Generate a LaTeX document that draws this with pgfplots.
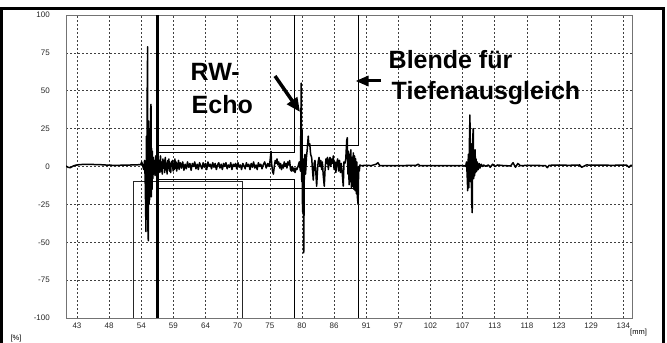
\documentclass[border=0pt]{standalone}
\usepackage{pgfplots}
\pgfplotsset{compat=1.18}
\usepackage{fontspec}
\setmainfont{Liberation Sans}
\usetikzlibrary{arrows.meta}
\pgfplotstableread{
x y
41.17 0.3
41.5 -0.5
41.9 -0.8
42.3 0.2
42.8 0.9
43.5 1.3
45.0 1.4
46.0 1.3
47.5 1.1
48.0 0.9
49.0 0.8
50.0 0.8
51.0 0.9
52.0 1.0
53.0 1.1
53.6 1.3
53.77 3
53.95 0.5
54.1 -2
54.25 4
54.35 -8
54.42 -25
54.48 -43
54.55 20
54.62 -30
54.68 45
54.76 79
54.8 -40
54.87 -49
54.93 30
54.99 -25
55.05 25
55.1 -22
55.16 20
55.22 -20
55.27 38
55.32 41
55.38 -20
55.44 12
55.5 -15
55.56 10
55.62 -8
55.7 6
55.78 -5
55.86 4
56.0 -6
56.1 7
56.2 -3
56.3 5
56.4 -5
56.5 6
56.6 -2
56.7 4
56.8 -4
56.9 7
57.0 -3
57.1 3
57.2 -5
57.3 5
57.4 -1
57.5 4
57.6 -4
57.7 6
57.8 -2
57.9 2
58.0 -5
58.1 4
58.2 -1
58.3 5
58.4 -3
58.5 2
58.6 -4
58.7 3
58.8 0
58.9 4
59.0 -3
59.1 2
59.2 -2
59.3 5
59.4 -1
59.5 3
59.6 -3
59.7 2
59.8 -1
59.9 4
60.0 -2
60.2 2.5
60.4 -1
60.6 3
60.8 -2.5
61.0 1.5
61.2 -1.5
61.4 3
61.6 -0.5
61.8 2
62.0 -2.5
62.2 2
62.4 0
62.6 3
62.8 -1.5
63.0 1.5
63.2 -2
63.4 2.5
63.6 0.5
63.8 -1.5
64.0 2.5
64.2 -0.5
64.4 2
64.6 -2
64.8 3
65.0 0
65.2 1.5
65.4 -1.5
65.6 2.5
65.8 -0.5
66.0 2
66.2 -2
66.4 1
66.6 2.5
66.8 -1
67.0 1.5
67.2 -2
67.4 2
67.6 0
67.8 2.5
68.0 -1.5
68.2 1
68.4 -0.5
68.6 2.5
68.8 -2
69.0 1.5
69.2 0
69.4 2
69.6 -1.5
69.8 2.5
70.0 -0.5
70.2 1
70.4 -2
70.6 2
70.8 0.5
71.0 -1.5
71.2 2.5
71.4 0
71.6 1.5
71.8 -2
72.0 2
72.2 -0.5
72.4 3
72.6 -1
72.8 1
73.0 -2
73.2 2.5
73.4 0
73.6 1.5
73.8 -1.5
74.0 1
74.25 3
74.5 -1
74.75 2
75.0 0
75.15 4
75.3 10
75.4 2
75.55 -3
75.7 -5
75.85 0
76.0 4
76.15 2
76.3 5
76.45 1
76.6 3
76.75 -1
76.9 2
77.05 -2
77.2 1
77.35 -1
77.5 3
77.65 0
77.8 2
77.95 -1
78.1 3
78.25 1
78.4 4
78.55 -2
78.7 -3
78.85 0
79.0 -3
79.15 -1
79.3 -4
79.45 -1
79.6 -2
79.8 0
80.0 3
80.2 -3
80.33 55
80.42 -10
80.48 24
80.55 -30
80.65 5
80.75 -57
80.85 0
80.95 8
81.05 -5
81.2 6
81.35 12
81.5 20
81.6 14
81.75 15
81.9 8
82.07 6
82.2 -2
82.34 -9
82.48 2
82.62 4
82.75 -3
82.9 -13
83.05 -2
83.15 3
83.3 6
83.45 0
83.6 4
83.73 -2
83.85 3
84.0 -6
84.17 -13
84.3 -2
84.45 5
84.57 2
84.7 6
84.85 -2
85.0 4
85.12 6
85.25 0
85.4 5
85.55 2
85.67 7
85.8 -2
85.95 3
86.1 -4
86.23 2
86.4 5
86.55 -3
86.7 4
86.85 -4
87.0 2
87.15 -4
87.33 -13
87.45 3
87.6 2
87.75 5
87.9 17
88.0 19
88.1 -5
88.2 10
88.3 -12
88.4 8
88.5 -10
88.6 11
88.7 -14
88.8 6
88.9 -13
89.0 9
89.1 -15
89.2 7
89.3 -16
89.4 5
89.5 -18
89.6 3
89.7 -21
89.8 -25
89.9 0
90.0 -3
90.1 1
90.3 0.5
91.0 0.8
92.0 0.6
92.8 1.5
93.1 2.5
93.4 0.6
95.0 0.5
97.0 0.6
99.5 0.8
99.8 1.5
100.1 0.5
102.0 0.5
104.0 0.6
106.0 0.5
107.5 0.5
107.7 0
107.85 3
107.95 -5
108.05 -16
108.15 8
108.25 -14
108.35 20
108.42 34
108.5 -10
108.6 15
108.7 -22
108.8 -30.5
108.88 18
108.97 25
109.05 -8
109.12 10
109.2 -6
109.28 11
109.36 -4
109.45 5
109.55 -3
109.65 3
109.8 -2
109.95 2
110.1 -1
110.3 1.5
110.5 0
110.7 1
111.0 0.2
111.5 1
111.8 -0.5
112.2 1.5
112.6 0
113.0 1
114.0 0.6
115.2 0.4
115.6 2.5
116.0 -0.5
116.4 2
116.8 0.5
118.0 0.8
119.5 0.7
121.0 0.6
121.3 -0.8
121.6 0.8
123.0 0.9
125.0 0.8
126.7 1.0
127.0 -0.5
127.4 0.2
127.8 1.0
130.0 0.9
132.0 0.8
134.5 0.9
134.9 -0.5
135.2 0.8
135.4 0.8
}\signal
\begin{document}
\begin{tikzpicture}
\useasboundingbox (0,0) rectangle (667bp,343bp);
\begin{axis}[
  at={(66bp,25bp)}, anchor=south west,
  width=566bp, height=303bp, scale only axis,
  xmin=41.17, xmax=135.4, ymin=-100, ymax=100,
  xtick={43,48.35,53.7,59.05,64.4,69.75,75.1,80.45,85.8,91.15,96.5,101.85,107.2,112.55,117.9,123.25,128.6,133.95},
  xticklabels={43,48,54,59,64,70,75,80,86,91,97,102,107,113,118,123,129,134},
  ytick={-100,-75,-50,-25,0,25,50,75,100},
  yticklabels={-100,-75,-50,-25,0,25,50,75,100},
  major tick length=0pt,
  grid=major,
  major grid style={black!75, line width=0.6bp, dash pattern=on 2bp off 2bp},
  axis line style={black!55, line width=0.8bp},
  tick label style={font=\fontsize{8bp}{9.5bp}\selectfont, inner sep=0pt, text=black!85},
  xticklabel style={anchor=north, yshift=-4.5bp},
  yticklabel style={anchor=east, xshift=-16bp},
]
\addplot[black!85, line width=0.8bp] coordinates {(52.32,-100) (52.32,-9.6) (70.47,-9.6) (70.47,-100)};
\addplot[black, line width=0.9bp] coordinates {(56.6,100) (56.6,9) (79.12,9) (79.12,100)};
\addplot[black, line width=0.9bp] coordinates {(56.6,-100) (56.6,-8.3) (79.12,-8.3) (79.12,-100)};
\addplot[black, line width=0.9bp] coordinates {(56.6,14.2) (89.86,14.2) (89.86,100)};
\addplot[black, line width=0.9bp] coordinates {(56.6,-14.2) (89.86,-14.2) (89.86,-100)};
\addplot[black, line width=2.4bp] coordinates {(56.40,-100) (56.40,100)};
\addplot[black, line width=1.5bp, line join=round] table[x=x, y=y] {\signal};
\end{axis}
\draw[line width=2.6bp] (1.3bp,0) -- (1.3bp,334.5bp) -- (663.3bp,334.5bp) -- (663.3bp,0);
\begin{scope}[every node/.style={inner sep=0pt, anchor=base west, font=\bfseries\fontsize{25bp}{30bp}\selectfont}]
\node at (190.5bp,262.3bp) {RW-};
\node at (191.5bp,229.7bp) {Echo};
\node at (388.5bp,274.7bp) {Blende für};
\node at (391.5bp,243.7bp) {Tiefenausgleich};
\end{scope}
\draw[line width=3.5bp, -{Triangle[length=14bp,width=12bp]}] (275bp,267bp) -- (300bp,231bp);
\draw[line width=3bp, -{Triangle[length=13bp,width=10bp]}] (381bp,262bp) -- (355.5bp,262bp);
\node[font=\fontsize{7.5bp}{9bp}\selectfont, inner sep=0pt] at (16bp,4bp) {[\%]};
\node[font=\fontsize{7.5bp}{9bp}\selectfont, inner sep=0pt, anchor=west] at (630bp,10bp) {[mm]};
\end{tikzpicture}
\end{document}
